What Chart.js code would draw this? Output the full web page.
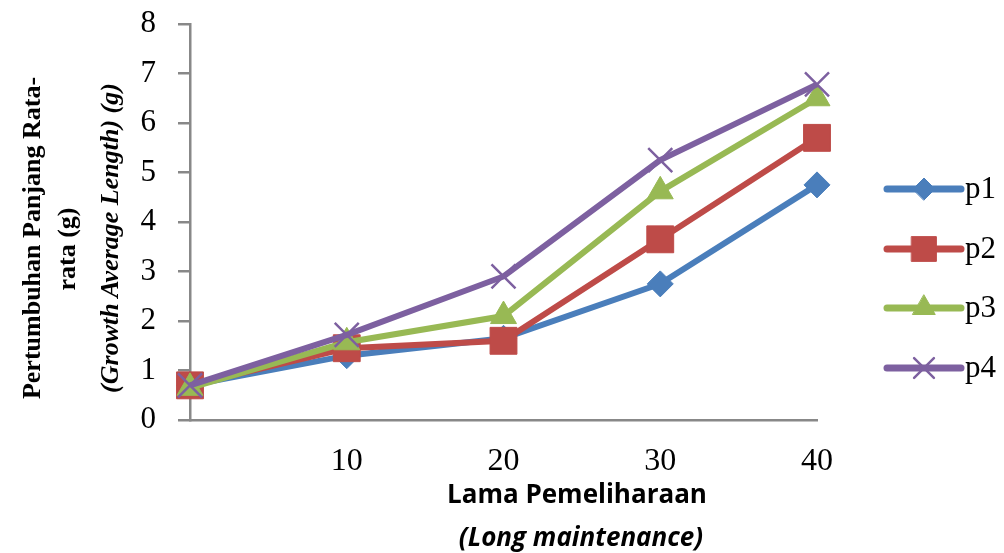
<!DOCTYPE html>
<html><head><meta charset="utf-8">
<script src="https://cdn.jsdelivr.net/npm/chart.js@4.4.0/dist/chart.umd.min.js"></script>
<style>
html,body{margin:0;padding:0;background:#fff;}
#wrap{position:relative;width:1004px;height:553px;overflow:hidden;background:#fff}
#c{position:absolute;left:0;top:0}
.t{position:absolute;white-space:nowrap;color:#000;transform:translate(-50%,-50%);line-height:1}
.yt{font-family:"Liberation Serif",serif;font-weight:bold;font-size:26px;transform:translate(-50%,-50%) rotate(-90deg)}
.xt{font-family:"Open Sans",sans-serif;font-weight:bold;font-size:26px}
</style></head>
<body>
<div id="wrap">
<canvas id="c" width="1004" height="553"></canvas>
<div class="t yt" style="left:32px;top:238px">Pertumbuhan Panjang Rata-</div>
<div class="t yt" style="left:67px;top:249px">rata (g)</div>
<div class="t yt" style="left:110px;top:238px;font-style:italic">(Growth Average Length) (g)</div>
<div class="t xt" style="left:577px;top:493px">Lama Pemeliharaan</div>
<div class="t xt" style="left:581px;top:536px;font-style:italic">(Long maintenance)</div>
</div>
<script>
const categories = [0, 10, 20, 30, 40];
const xTickLabels = ['', '10', '20', '30', '40'];
const yTicks = [0, 1, 2, 3, 4, 5, 6, 7, 8];
const seriesNames = ['p1', 'p2', 'p3', 'p4'];
const p1 = [0.70, 1.30, 1.65, 2.75, 4.75];
const p2 = [0.70, 1.45, 1.60, 3.65, 5.70];
const p3 = [0.65, 1.57, 2.10, 4.62, 6.50];
const p4 = [0.70, 1.72, 2.90, 5.25, 6.78];

const colors = ['#4A7EBB', '#BE4B48', '#98B954', '#7D60A0'];
const styles = ['rectRot', 'rect', 'triangle', 'crossRot'];
const radii = [13, 19, 15, 17];
const legendRadii = [11, 17.5, 13, 14];
const series = [p1, p2, p3, p4];

const datasets = series.map((vals, i) => ({
  label: seriesNames[i],
  data: categories.map((c, j) => ({x: c, y: vals[j]})),
  borderColor: colors[i],
  backgroundColor: colors[i],
  pointBackgroundColor: colors[i],
  pointBorderColor: colors[i],
  pointStyle: styles[i],
  pointRadius: radii[i],
  pointHoverRadius: radii[i],
  pointBorderWidth: i === 3 ? 2.5 : 1,
  borderWidth: 6,
  tension: 0,
  clip: false,
  order: 4 - i
}));

const legendPlugin = {
  id: 'sideLegend',
  afterDraw(chart) {
    const ctx = chart.ctx;
    const x0 = 887, x1 = 961, ys = [189, 249, 308, 368];
    chart.data.datasets.forEach((ds, i) => {
      const y = ys[i];
      ctx.save();
      ctx.strokeStyle = ds.borderColor;
      ctx.lineWidth = 7;
      ctx.lineCap = 'round';
      ctx.beginPath(); ctx.moveTo(x0, y); ctx.lineTo(x1, y); ctx.stroke();
      ctx.fillStyle = ds.pointBackgroundColor;
      ctx.strokeStyle = ds.pointBorderColor;
      ctx.lineWidth = ds.pointBorderWidth;
      Chart.helpers.drawPoint(ctx, {pointStyle: ds.pointStyle, radius: legendRadii[i], rotation: 0, borderWidth: ds.pointBorderWidth}, (x0 + x1) / 2, y);
      ctx.fillStyle = '#000';
      ctx.font = '31px "Liberation Serif"';
      ctx.textBaseline = 'middle';
      ctx.textAlign = 'left';
      ctx.fillText(ds.label, 965, y + 1);
      ctx.restore();
    });
  }
};

new Chart(document.getElementById('c'), {
  type: 'line',
  data: {datasets},
  plugins: [legendPlugin],
  options: {
    responsive: false,
    animation: false,
    events: [],
    layout: {padding: {left: 0, right: 187, top: 24, bottom: 0}},
    plugins: {legend: {display: false}, tooltip: {enabled: false}},
    scales: {
      x: {
        type: 'linear', min: 0, max: 40,
        afterFit(s) { s.height = 133; s.paddingLeft = 0; s.paddingRight = 0; },
        afterBuildTicks(s) { s.ticks = categories.map(v => ({value: v})); },
        ticks: {
          callback: (v) => xTickLabels[categories.indexOf(v)] ?? '',
          color: '#000', font: {family: 'Liberation Serif', size: 32}, padding: 22, maxRotation: 0
        },
        grid: {display: false, drawTicks: false},
        border: {display: true, color: '#888888', width: 2.5}
      },
      y: {
        min: 0, max: 8,
        afterFit(s) { s.width = 190; s.paddingTop = 0; s.paddingBottom = 0; },
        afterBuildTicks(s) { s.ticks = yTicks.map(v => ({value: v})); },
        ticks: {color: '#000', font: {family: 'Liberation Serif', size: 31}, padding: 22},
        grid: {display: true, drawOnChartArea: false, drawTicks: true, tickLength: 12, color: '#888888', lineWidth: 2.5},
        border: {display: true, color: '#888888', width: 2.5}
      }
    }
  }
});
</script>
</body></html>
